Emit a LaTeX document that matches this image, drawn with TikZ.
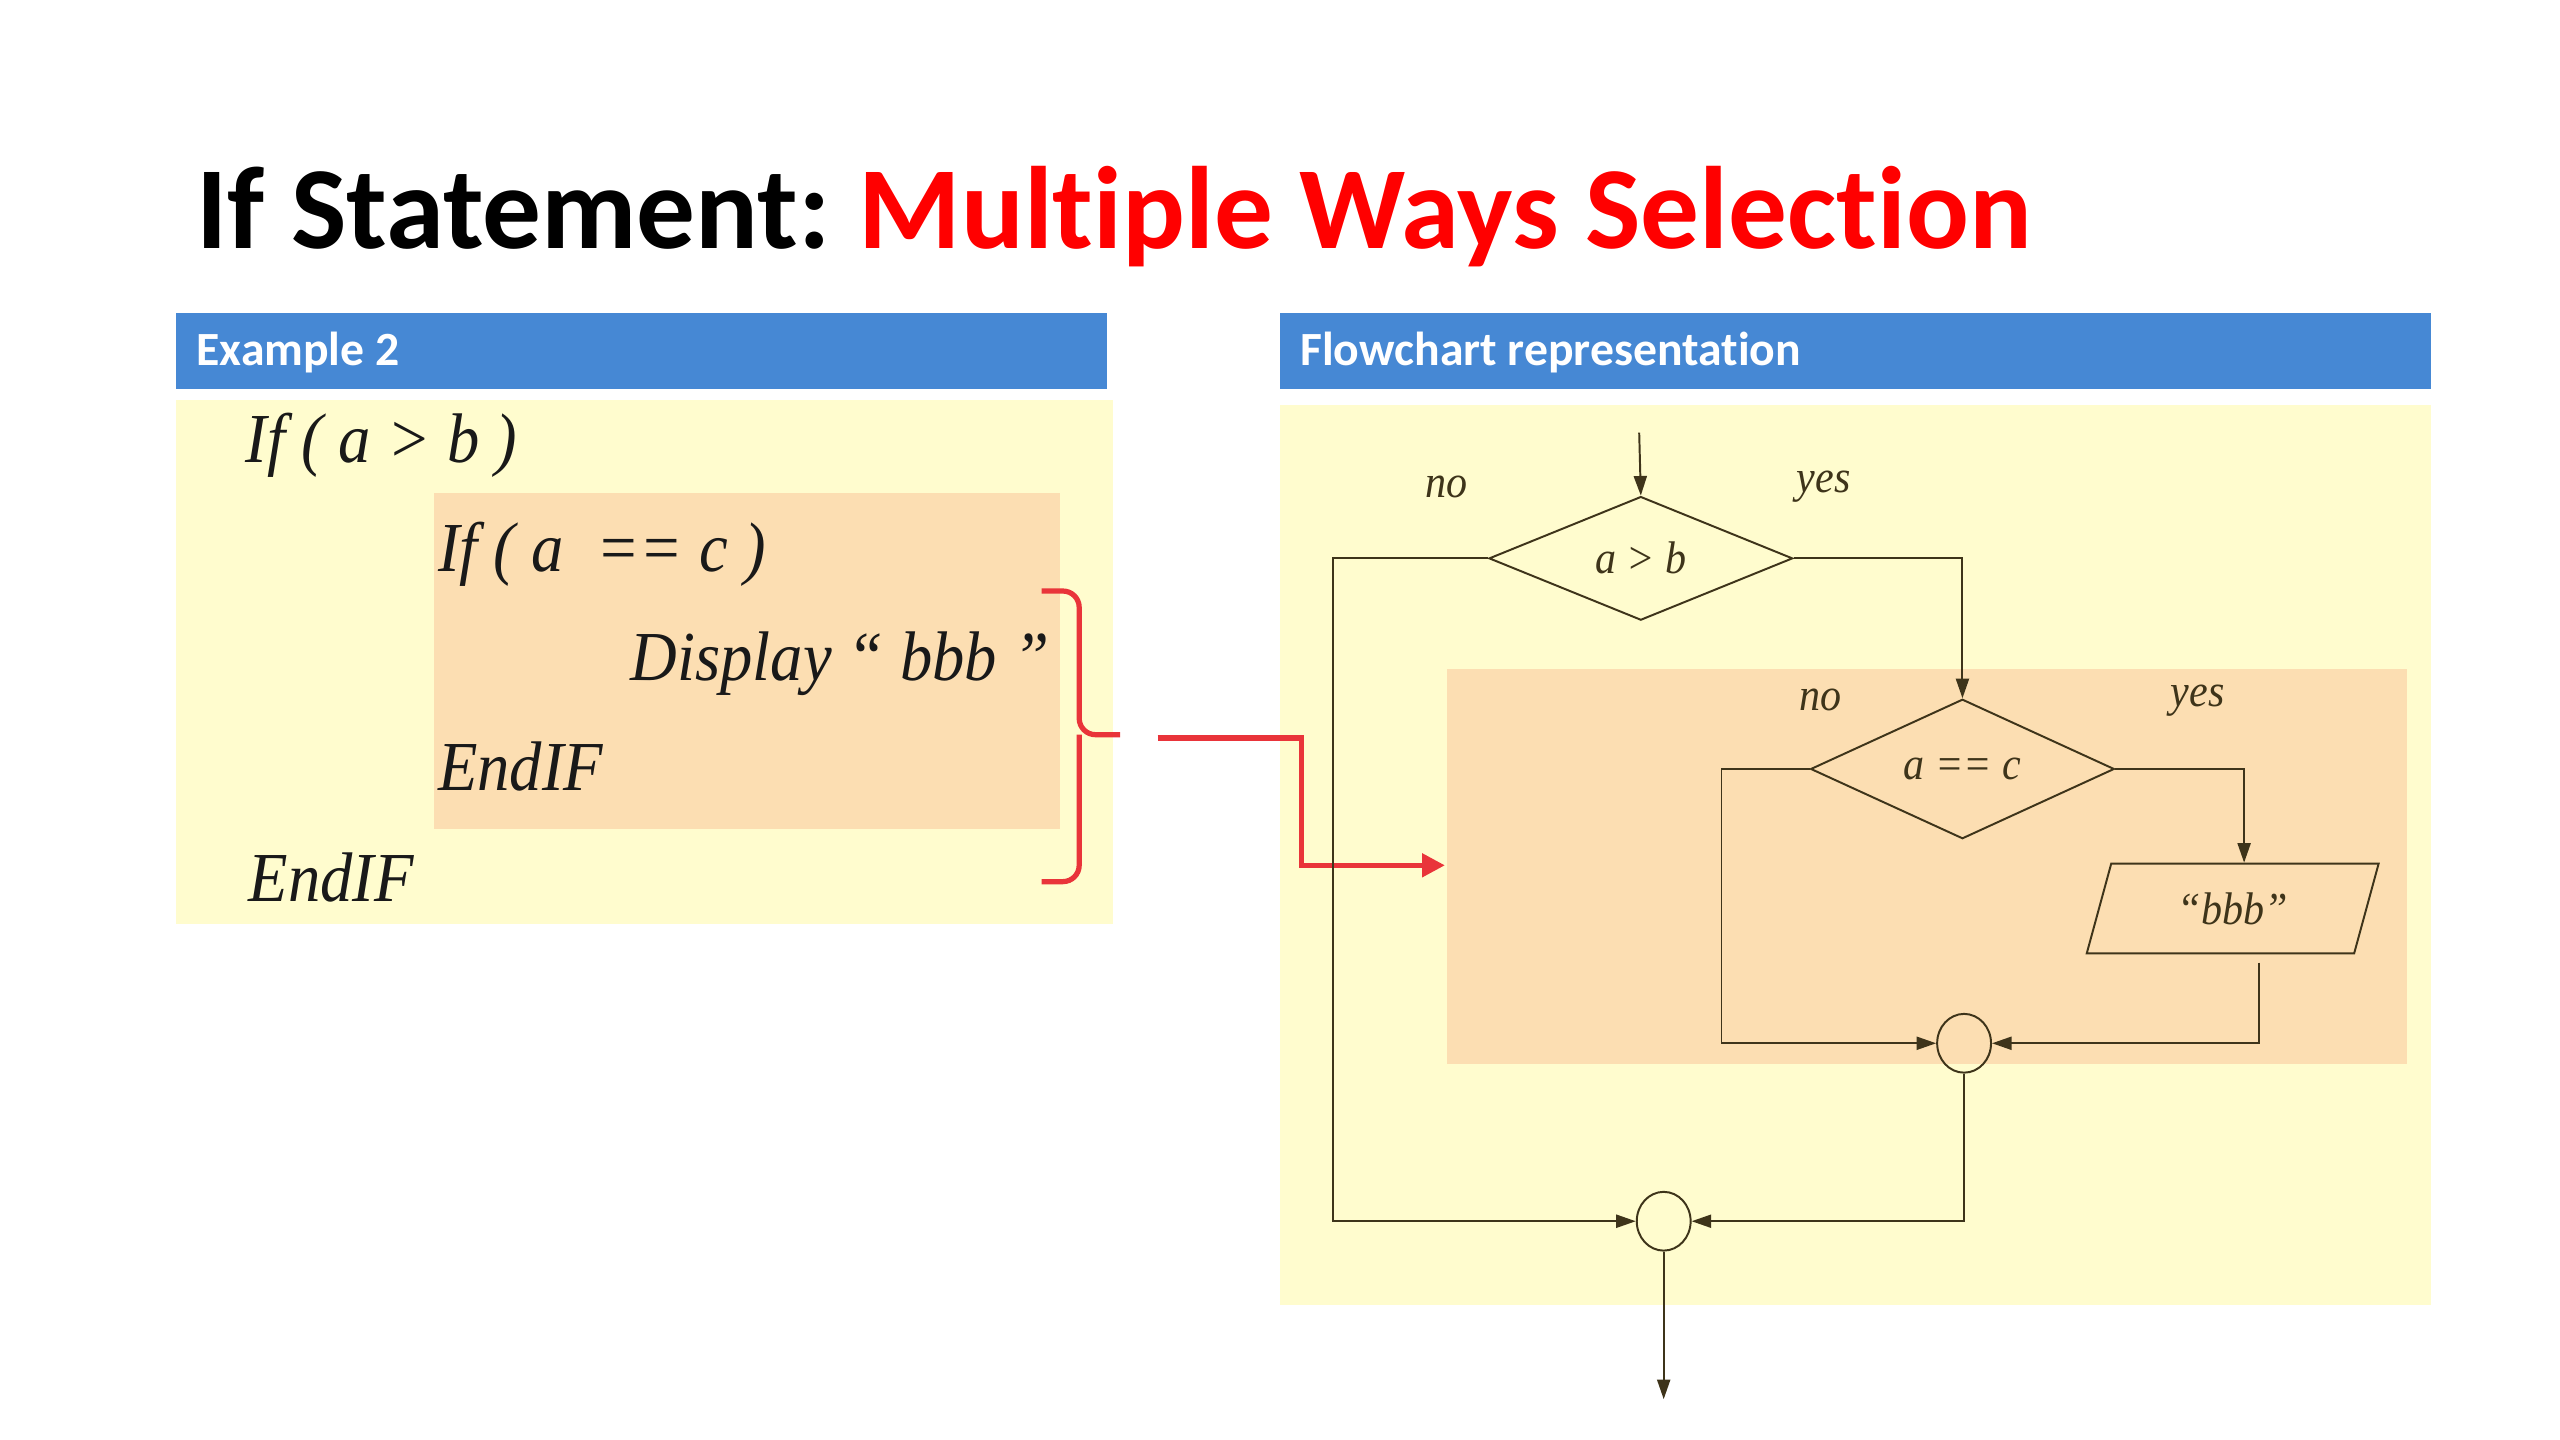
\documentclass[tikz,border=0pt]{standalone}
\usepackage{fontspec}
\setmainfont{Liberation Serif}
\newfontfamily\calib[Ligatures=NoCommon]{Carlito}
\newfontfamily\codefont[FakeStretch=0.92]{Liberation Serif}
\usetikzlibrary{shapes.geometric,arrows.meta}
\definecolor{hdrblue}{RGB}{70,136,212}
\definecolor{paleyel}{RGB}{255,252,206}
\definecolor{peach}{RGB}{252,222,178}
\definecolor{flowln}{RGB}{62,52,26}
\definecolor{brred}{RGB}{233,52,58}
\definecolor{ttlred}{RGB}{255,0,0}
\tikzset{
  hdrtext/.style={anchor=west,inner sep=0pt,text=white,font=\calib\bfseries\fontsize{14.6}{16}\selectfont},
  codetext/.style={anchor=base west,inner sep=0pt,text=black!90,font=\codefont\itshape\fontsize{21.5}{24}\selectfont},
  flowlabel/.style={inner sep=0pt,text=flowln,font=\codefont\itshape\fontsize{14}{15}\selectfont},
  decision/.style={diamond,draw=flowln,line width=0.6pt,minimum width=93pt,minimum height=36pt,inner sep=0pt,text=flowln,font=\codefont\itshape\fontsize{14}{15}\selectfont},
  iobox/.style={trapezium,trapezium left angle=71,trapezium right angle=109,trapezium stretches=true,draw=flowln,line width=0.6pt,minimum width=89.5pt,minimum height=27.5pt,inner sep=0pt,text=flowln,font=\codefont\itshape\fontsize{14}{15}\selectfont},
  joiner/.style={ellipse,draw=flowln,line width=0.6pt,minimum width=16.5pt,minimum height=18pt,inner sep=0pt},
  flow/.style={draw=flowln,line width=0.6pt,-{Triangle[length=6pt,width=4pt]}},
  redln/.style={draw=brred,line width=1.6pt},
  redarrow/.style={draw=brred,line width=1.6pt,-{Triangle[length=7pt,width=7pt]}},
}
\begin{document}
\begin{tikzpicture}[x=0.5pt,y=-0.5pt]
\useasboundingbox (0,0) rectangle (1568,882);
% title
\node[anchor=base west,inner sep=0pt] (title) at (120,152) {\calib\bfseries\fontsize{35.9}{40}\selectfont If Statement:\hspace{0.24em}\textcolor{ttlred}{Multiple Ways Selection}};
% panels
\fill[hdrblue] (108,192) rectangle (678,238);
\fill[paleyel] (108,245) rectangle (682,566);
\fill[peach] (266,302) rectangle (649,508);
\fill[hdrblue] (784,192) rectangle (1489,238);
\fill[paleyel] (784,248) rectangle (1489,799);
\fill[peach] (886,410) rectangle (1474,652);
\node[hdrtext] (exhdr) at (120,216) {Example 2};
\node[hdrtext] (fchdr) at (796,216) {Flowchart representation};
% code
\node[codetext] (c1line) at (150,283) {If ( a > b )};
\node[codetext] (c2line) at (268,350) {If ( a \ == c )};
\node[codetext] (c3line) at (386,417) {Display “ bbb ”};
\node[codetext] (c4line) at (268,484) {EndIF};
\node[codetext] (c5line) at (152,552) {EndIF};
% red bracket and arrow
\coordinate (brtop) at (638,362);
\coordinate (brbot) at (638,540);
\coordinate (brtip) at (686,450);
\draw[redln,rounded corners=5pt] (brtop) -- (661,362) -- (661,450) -- (brtip);
\draw[redln,rounded corners=5pt] (brbot) -- (661,540) -- (661,450);
\coordinate (rstart) at (709,452);
\coordinate (inbox) at (885,530);
\draw[redarrow] (rstart) -| (797,530) -- (inbox);
% flowchart
\coordinate (start) at (1004,265);
\node[decision] (d1) at (1005,342) {a > b};
\node[decision] (d2) at (1202,471) {a == c};
\node[iobox] (para) at (1367.5,556.5) {“bbb”};
\node[joiner] (j1) at (1203,639) {};
\node[joiner] (j2) at (1019,748) {};
\coordinate (finish) at (1019,857);
\node[flowlabel] (no1) at (886,298) {no};
\node[flowlabel] (yes1) at (1117,298) {yes};
\node[flowlabel] (no2) at (1115,429) {no};
\node[flowlabel] (yes2) at (1346,429) {yes};
\draw[flow] (start) -- (d1.north);
\draw[flow] (d1.west) -- ++(-95,0) |- (j2.west);
\draw[flow] (d1.east) -| (d2.north);
\draw[flow] (d2.west) -- ++(-54,0) |- (j1.west);
\draw[flow] (d2.east) -| ([xshift=3.5pt]para.north);
\draw[flow] ([xshift=8pt,yshift=-2.5pt]para.south) |- (j1.east);
\draw[flow] (j1.south) |- (j2.east);
\draw[flow] (j2.south) -- (finish);
\end{tikzpicture}
\end{document}
